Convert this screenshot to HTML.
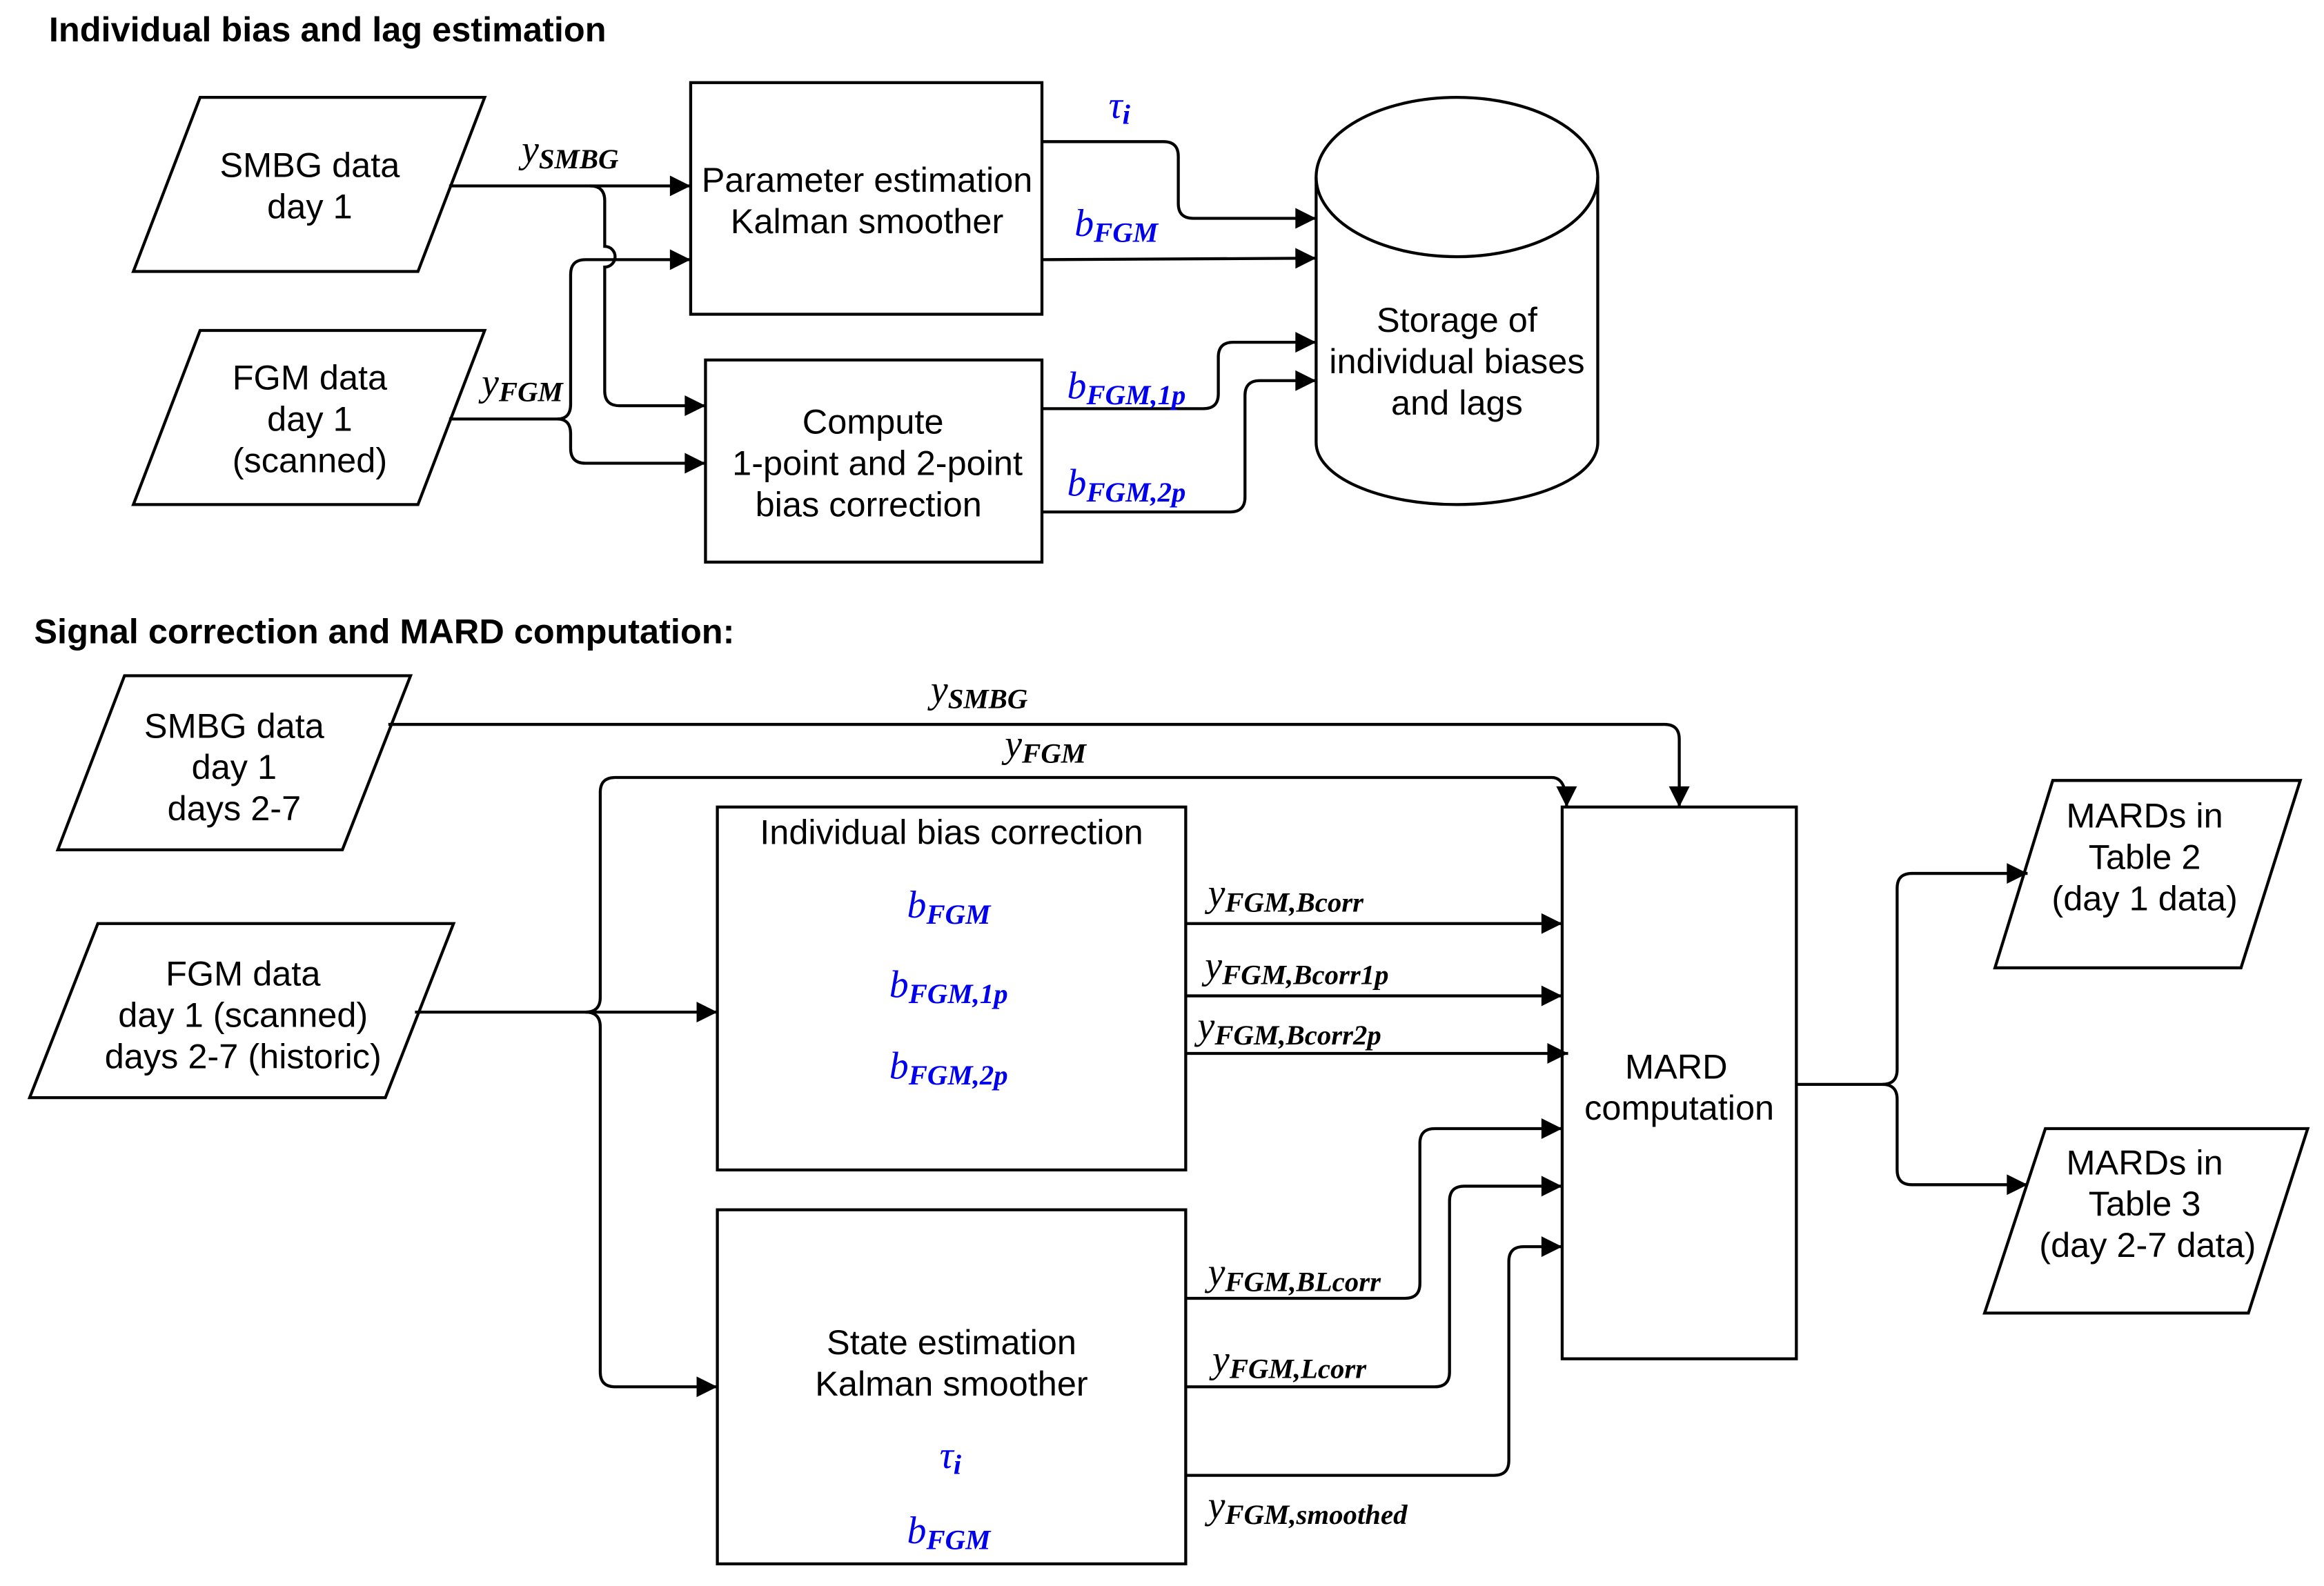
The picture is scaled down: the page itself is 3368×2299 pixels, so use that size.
<!DOCTYPE html>
<html><head><meta charset="utf-8"><style>
html,body{margin:0;padding:0;background:#fff;}
svg{display:block;}
.t{font-family:"Liberation Sans",sans-serif;font-size:23.5px;fill:#000;text-anchor:middle;}
.h{font-family:"Liberation Sans",sans-serif;font-size:23.5px;font-weight:bold;fill:#000;}
.m{font-family:"Liberation Serif",serif;font-style:italic;font-size:26px;fill:#000;}
.b{fill:#0000ee;}
.s{font-size:19px;font-weight:bold;}
</style></head><body>
<svg width="3368" height="2299" viewBox="0 0 1568 1075" preserveAspectRatio="none" xmlns="http://www.w3.org/2000/svg">
<defs><marker id="ar" viewBox="0 0 10 10" refX="10" refY="5" markerWidth="18" markerHeight="14" markerUnits="userSpaceOnUse" orient="auto"><path d="M0,0L10,5L0,10z" fill="#000"/></marker></defs>
<g fill="none" stroke="#000" stroke-width="2">
<polygon points="135,66 327,66 282,184 90,184"/>
<polygon points="135,224 327,224 282,342 90,342"/>
<rect x="466" y="56" width="237" height="157"/>
<rect x="476" y="244" width="227" height="137"/>
<path d="M888,120 L888,300 A95,42 0 0 0 1078,300 L1078,120"/>
<ellipse cx="983" cy="120" rx="95" ry="54"/>
<polygon points="84,458 277,458 231,576 39,576"/>
<polygon points="66,626 306,626 260,744 20,744"/>
<rect x="484" y="547" width="316" height="246"/>
<rect x="484" y="820" width="316" height="240"/>
<rect x="1054" y="547" width="158" height="374"/>
<polygon points="1385,529 1552,529 1512,656 1346,656"/>
<polygon points="1380,765 1557,765 1517,890 1339,890"/>
</g>
<g fill="none" stroke="#000" stroke-width="2" marker-end="url(#ar)">
<path d="M303,126 L466,126"/>
<path d="M398,126 Q408,126 408,136 L408,167 A6,6 0 0 1 408,181 L408,265 Q408,275 418,275 L476,275"/>
<path d="M303,284 L376,284 Q385,284 385,274 L385,186 Q385,176 395,176 L466,176"/>
<path d="M376,284 Q385,284 385,294 L385,304 Q385,314 395,314 L476,314"/>
<path d="M703,96 L785,96 Q795,96 795,106 L795,138 Q795,148 805,148 L888,148"/>
<path d="M703,176 L888,175"/>
<path d="M703,277 L812,277 Q822,277 822,267 L822,242 Q822,232 832,232 L888,232"/>
<path d="M703,347 L830,347 Q840,347 840,337 L840,268 Q840,258 850,258 L888,258"/>
<path d="M262,491 L1123,491 Q1133,491 1133,501 L1133,547"/>
<path d="M280,686 L484,686"/>
<path d="M395,686 Q405,686 405,676 L405,537 Q405,527 415,527 L1047,527 Q1057,527 1057,547" marker-end=""/>
<path d="M395,686 Q405,686 405,696 L405,930 Q405,940 415,940 L484,940"/>
<path d="M800,626 L1054,626"/>
<path d="M800,675 L1054,675"/>
<path d="M800,714 L1058,714"/>
<path d="M800,880 L948,880 Q958,880 958,870 L958,775 Q958,765 968,765 L1054,765"/>
<path d="M800,940 L968,940 Q978,940 978,930 L978,814 Q978,804 988,804 L1054,804"/>
<path d="M800,1000 L1008,1000 Q1018,1000 1018,990 L1018,855 Q1018,845 1028,845 L1054,845"/>
<path d="M1212,735 L1270,735 Q1280,735 1280,725 L1280,602 Q1280,592 1290,592 L1368,592"/>
<path d="M1270,735 Q1280,735 1280,745 L1280,793 Q1280,803 1290,803 L1368,803"/>
</g>
<text class="h" x="33" y="28">Individual bias and lag estimation</text>
<text class="h" x="23" y="436">Signal correction and MARD computation:</text>
<g class="t">
<text x="209" y="120">SMBG data</text><text x="209" y="148">day 1</text>
<text x="209" y="264">FGM data</text><text x="209" y="292">day 1</text><text x="209" y="320">(scanned)</text>
<text x="585" y="130">Parameter estimation</text><text x="585" y="158">Kalman smoother</text>
<text x="589" y="294">Compute</text><text x="592" y="322">1-point and 2-point</text><text x="586" y="350">bias correction</text>
<text x="983" y="225">Storage of</text><text x="983" y="253">individual biases</text><text x="983" y="281">and lags</text>
<text x="158" y="500">SMBG data</text><text x="158" y="528">day 1</text><text x="158" y="556">days 2-7</text>
<text x="164" y="668">FGM data</text><text x="164" y="696">day 1 (scanned)</text><text x="164" y="724">days 2-7 (historic)</text>
<text x="642" y="572">Individual bias correction</text>
<text x="642" y="918">State estimation</text><text x="642" y="946">Kalman smoother</text>
<text x="1131" y="731">MARD</text><text x="1133" y="759">computation</text>
<text x="1447" y="561">MARDs in</text><text x="1447" y="589">Table 2</text><text x="1447" y="617">(day 1 data)</text>
<text x="1447" y="796">MARDs in</text><text x="1447" y="824">Table 3</text><text x="1449" y="852">(day 2-7 data)</text>
</g>
<g class="m">
<text x="352" y="110">y<tspan class="s" dy="4">SMBG</tspan></text>
<text x="325" y="268">y<tspan class="s" dy="4">FGM</tspan></text>
<text class="m b" x="748" y="80">τ<tspan class="s" dy="4">i</tspan></text>
<text class="m b" x="725" y="160">b<tspan class="s" dy="4">FGM</tspan></text>
<text class="m b" x="720" y="270">b<tspan class="s" dy="4">FGM,1p</tspan></text>
<text class="m b" x="720" y="336">b<tspan class="s" dy="4">FGM,2p</tspan></text>
<text x="628" y="476">y<tspan class="s" dy="4">SMBG</tspan></text>
<text x="678" y="513">y<tspan class="s" dy="4">FGM</tspan></text>
<text class="m b" x="612" y="622">b<tspan class="s" dy="4">FGM</tspan></text>
<text class="m b" x="600" y="676">b<tspan class="s" dy="4">FGM,1p</tspan></text>
<text class="m b" x="600" y="731">b<tspan class="s" dy="4">FGM,2p</tspan></text>
<text class="m b" x="634" y="995">τ<tspan class="s" dy="4">i</tspan></text>
<text class="m b" x="612" y="1046">b<tspan class="s" dy="4">FGM</tspan></text>
<text x="815" y="614">y<tspan class="s" dy="4">FGM,Bcorr</tspan></text>
<text x="813" y="663">y<tspan class="s" dy="4">FGM,Bcorr1p</tspan></text>
<text x="808" y="704">y<tspan class="s" dy="4">FGM,Bcorr2p</tspan></text>
<text x="815" y="871">y<tspan class="s" dy="4">FGM,BLcorr</tspan></text>
<text x="818" y="930">y<tspan class="s" dy="4">FGM,Lcorr</tspan></text>
<text x="815" y="1029">y<tspan class="s" dy="4">FGM,smoothed</tspan></text>
</g>
</svg>
</body></html>
